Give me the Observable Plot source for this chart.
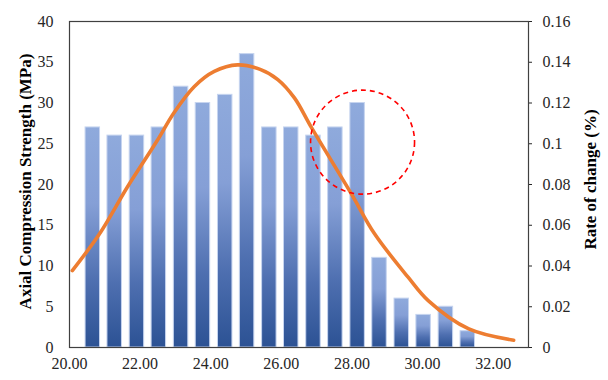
<!DOCTYPE html>
<html>
<head>
<meta charset="utf-8">
<script src="https://cdn.jsdelivr.net/npm/d3@7"></script>
<script src="https://cdn.jsdelivr.net/npm/@observablehq/plot@0.6"></script>
<style>
  html, body { margin: 0; padding: 0; background: #fff; }
</style>
</head>
<body>
<div id="chart"></div>
<script>
// Bars: axial compression strength (MPa) at each x
const barX = [20.66, 21.28, 21.91, 22.53, 23.16, 23.78, 24.41, 25.03, 25.66, 26.28, 26.91, 27.53, 28.16, 28.78, 29.41, 30.03, 30.66, 31.28];
const barV = [27, 26, 26, 27, 32, 30, 31, 36, 27, 27, 26, 27, 30, 11, 6, 4, 5, 2];

// Curve: rate of change (%)
const curveX = [20.08, 20.88, 21.64, 22.49, 22.95, 23.53, 24.10, 24.76, 25.40, 25.90, 26.37, 26.85, 27.98, 28.64, 29.59, 30.16, 31.31, 32.58];
const curveR = [0.0377, 0.0566, 0.0788, 0.1017, 0.1150, 0.1280, 0.1355, 0.1387, 0.1365, 0.1315, 0.1225, 0.1080, 0.0755, 0.0558, 0.0345, 0.0230, 0.0091, 0.0036];

// Axis ticks
const xTicks = [20, 22, 24, 26, 28, 30, 32];
const leftTicks = [0, 5, 10, 15, 20, 25, 30, 35, 40];
const rightTickLabels = ["0", "0.02", "0.04", "0.06", "0.08", "0.1", "0.12", "0.14", "0.16"];

// Dashed annotation circle (data coordinates on left axis)
const circleX = [28.3];
const circleY = [25.2];

const leftTitle = "Axial Compression Strength (MPa)";
const rightTitle = "Rate of change (%)";

const leftMax = 40, rightMax = 0.16;
const bars = barX.map((x, i) => ({x, v: barV[i]}));
const curve = curveX.map((x, i) => ({x, r: curveR[i]}));
const circle = circleX.map((x, i) => ({x, y: circleY[i]}));
const halfW = 0.205;

const chart = Plot.plot({
  width: 608,
  height: 380,
  marginLeft: 69,
  marginRight: 80,
  marginTop: 21,
  marginBottom: 33,
  style: {fontFamily: "'Liberation Serif', 'Times New Roman', serif", fontSize: "16px", color: "#262626", background: "#fff"},
  x: {domain: [20, 33]},
  y: {domain: [0, leftMax]},
  marks: [
    Plot.rectY(bars, {x1: d => d.x - halfW, x2: d => d.x + halfW, y: "v", fill: "url(#barGrad)", stroke: "#c6d4ef", strokeWidth: 1}),
    Plot.line(curve, {x: "x", y: d => d.r * leftMax / rightMax, stroke: "#ED7D31", strokeWidth: 3.6, curve: "catmull-rom"}),
    Plot.dot(circle, {x: "x", y: "y", r: 52, fill: "none", stroke: "#ff0000", strokeWidth: 1.6, strokeDasharray: "5,4"}),
    Plot.frame({stroke: "#404040", strokeWidth: 1.2}),
    Plot.axisX({ticks: xTicks, tickSize: 0, tickPadding: 10, tickFormat: d3.format(".2f"), label: null}),
    Plot.axisY({anchor: "left", ticks: leftTicks, tickSize: 0, tickPadding: 16, label: null}),
    Plot.axisY({anchor: "right", ticks: leftTicks, tickSize: 3, tickPadding: 11, tickFormat: (d, i) => rightTickLabels[i], label: null}),
    Plot.text([leftTitle], {frameAnchor: "left", dx: -44, dy: -3, rotate: -90, textAnchor: "middle", fontWeight: "bold", fontSize: 17, fill: "#000"}),
    Plot.text([rightTitle], {frameAnchor: "right", dx: 62, dy: -5, rotate: -90, textAnchor: "middle", fontWeight: "bold", fontSize: 17, fill: "#000"})
  ]
});

// gradient for bars (per bar, top light to bottom dark)
const ns = "http://www.w3.org/2000/svg";
const defs = document.createElementNS(ns, "defs");
const grad = document.createElementNS(ns, "linearGradient");
grad.setAttribute("id", "barGrad");
grad.setAttribute("x1", "0"); grad.setAttribute("y1", "0");
grad.setAttribute("x2", "0"); grad.setAttribute("y2", "1");
[["0", "#8faadc"], ["0.35", "#859fd6"], ["0.7", "#4e6fb0"], ["1", "#2c5294"]].forEach(([o, c]) => {
  const s = document.createElementNS(ns, "stop");
  s.setAttribute("offset", o);
  s.setAttribute("stop-color", c);
  grad.appendChild(s);
});
defs.appendChild(grad);
chart.insertBefore(defs, chart.firstChild);

document.getElementById("chart").appendChild(chart);
</script>
</body>
</html>
